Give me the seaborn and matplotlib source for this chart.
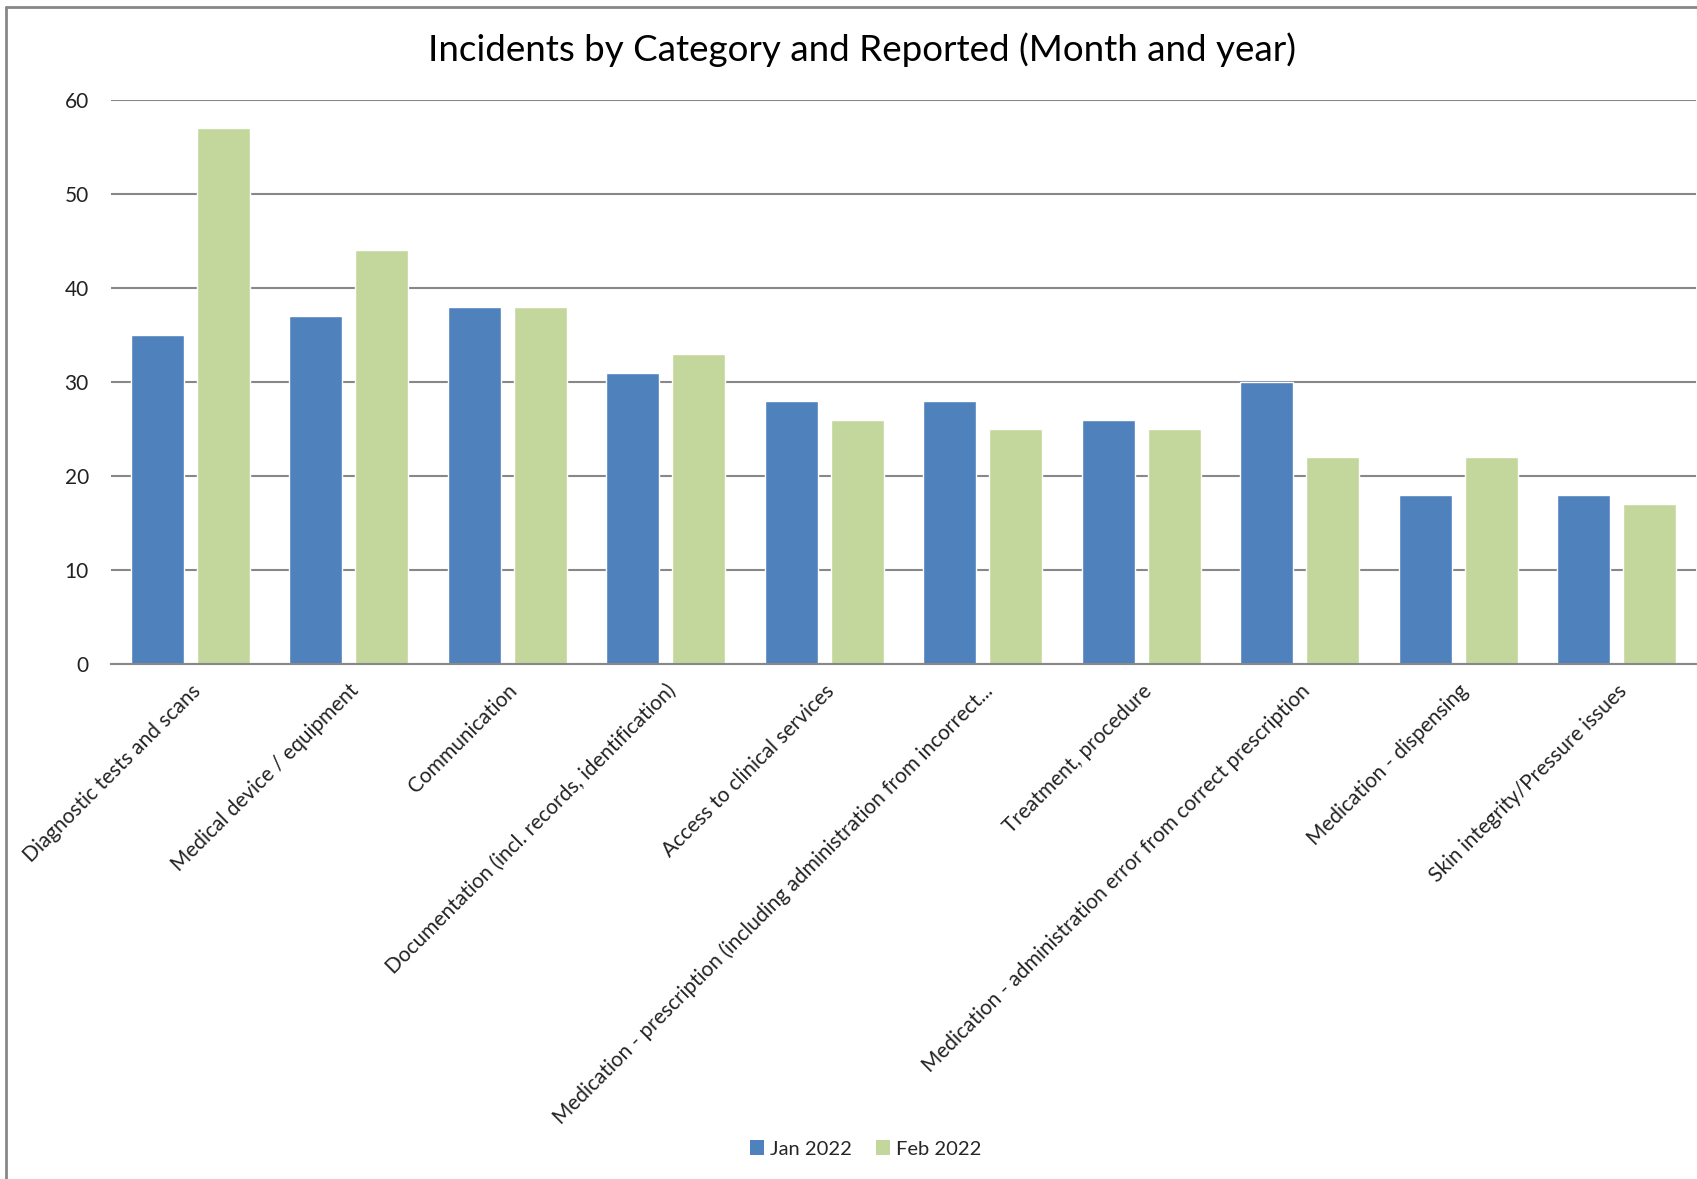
import matplotlib
matplotlib.use("Agg")
import matplotlib.pyplot as plt
from matplotlib.lines import Line2D
from matplotlib.patches import Patch
import seaborn as sns
import pandas as pd

categories = [
    "Diagnostic tests and scans",
    "Medical device / equipment",
    "Communication",
    "Documentation (incl. records, identification)",
    "Access to clinical services",
    "Medication - prescription (including administration from incorrect...",
    "Treatment, procedure",
    "Medication - administration error from correct prescription",
    "Medication - dispensing",
    "Skin integrity/Pressure issues",
]
jan_2022 = [35, 37, 38, 31, 28, 28, 26, 30, 18, 18]
feb_2022 = [57, 44, 38, 33, 26, 25, 25, 22, 22, 17]
series_names = ["Jan 2022", "Feb 2022"]
y_ticks = [0, 10, 20, 30, 40, 50, 60]
title = "Incidents by Category and Reported (Month and year)"

colors = {"Jan 2022": "#4F81BD", "Feb 2022": "#C3D69B"}

df = pd.DataFrame({
    "category": categories * 2,
    "value": jan_2022 + feb_2022,
    "period": [series_names[0]] * len(categories) + [series_names[1]] * len(categories),
})

sns.set_theme(style="white")
plt.rcParams["font.family"] = ["Lato", "DejaVu Sans"]

W, H = 1697, 1179
fig = plt.figure(figsize=(W / 100, H / 100), dpi=100)
ax = fig.add_axes([111 / W, 1 - 664 / H, (1696 - 111) / W, (664 - 100) / H])

sns.barplot(data=df, x="category", y="value", hue="period", order=categories,
            hue_order=series_names, palette=colors, saturation=1,
            width=0.833, gap=0.2, ax=ax, legend=False)

ax.set_ylim(0, 60)
ax.set_xlim(-0.5, len(categories) - 0.5)
ax.set_yticks(y_ticks)
ax.set_yticklabels([str(v) for v in y_ticks], fontsize=15, color="#222222")
ax.yaxis.grid(True, color="#888888", linewidth=1.5)
ax.set_axisbelow(True)
for s in ["left", "right", "top"]:
    ax.spines[s].set_visible(False)
ax.spines["bottom"].set_color("#888888")
ax.spines["bottom"].set_linewidth(1.5)
ax.tick_params(axis="both", length=0)
ax.tick_params(axis="y", pad=16)
ax.tick_params(axis="x", pad=12)
ax.set_xlabel("")
ax.set_ylabel("")
ax.set_xticks(range(len(categories)))
ax.set_xticklabels(categories, rotation=45, ha="right", va="top",
                   rotation_mode="anchor", fontsize=15, color="#222222")

fig.text(862 / W, 1 - 50 / H, title, ha="center", va="center", fontsize=26.5, color="#000000")

handles = [Patch(facecolor=colors[n], edgecolor="none", label=n) for n in series_names]
fig.legend(handles=handles, loc="center", bbox_to_anchor=(866 / W, 1 - 1149 / H),
           ncol=2, frameon=False, fontsize=14.5, handlelength=0.7, handleheight=0.7,
           handletextpad=0.3, columnspacing=1.2)

fig.add_artist(Line2D([5.5 / W, 5.5 / W], [0, 1 - 7 / H], transform=fig.transFigure,
                      color="#888888", linewidth=2))
fig.add_artist(Line2D([5.5 / W, 1], [1 - 7 / H, 1 - 7 / H], transform=fig.transFigure,
                      color="#888888", linewidth=2))

fig.savefig("out.png", dpi=100, facecolor="white")
